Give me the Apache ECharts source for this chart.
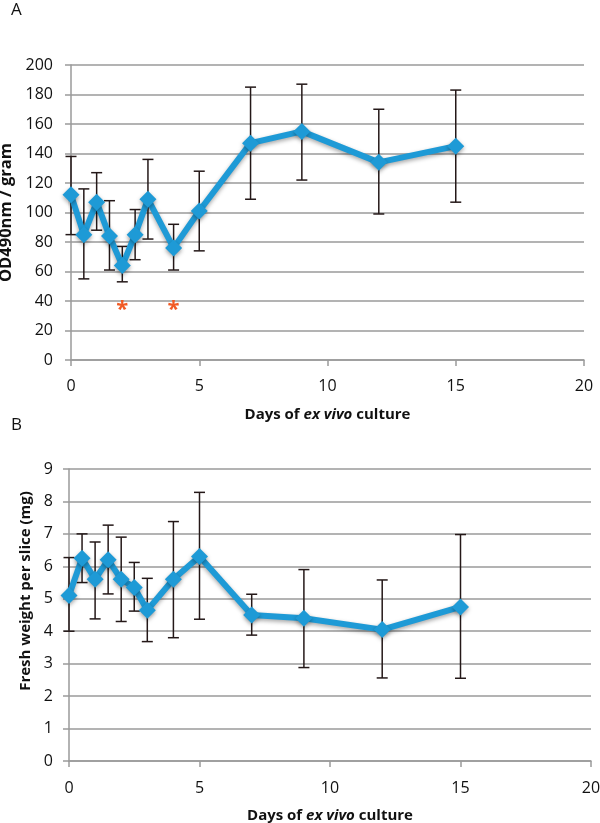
<!DOCTYPE html>
<html>
<head>
<meta charset="utf-8">
<script src="https://cdn.jsdelivr.net/npm/echarts@6/dist/echarts.min.js"></script>
<style>
html,body{margin:0;padding:0;background:#fff;}
#main{width:600px;height:823px;}
</style>
</head>
<body>
<div id="main"></div>
<script>
// ---- Data ----
const days = [0, 0.5, 1, 1.5, 2, 2.5, 3, 4, 5, 7, 9, 12, 15];
const odMean = [112, 85, 107, 84, 64, 85, 109, 76, 101, 147, 155, 134, 145];
const odLow  = [85, 55, 88, 61, 53, 68, 82, 61, 74, 109, 122, 99, 107];
const odHigh = [138, 116, 127, 108, 77, 102, 136, 92, 128, 185, 187, 170, 183];
const wMean = [5.1, 6.25, 5.6, 6.2, 5.6, 5.35, 4.65, 5.6, 6.3, 4.5, 4.4, 4.05, 4.75];
const wLow  = [4.0, 5.5, 4.38, 5.15, 4.3, 4.62, 3.68, 3.8, 4.37, 3.88, 2.88, 2.56, 2.55];
const wHigh = [6.27, 7.0, 6.75, 7.27, 6.9, 6.12, 5.63, 7.38, 8.28, 5.14, 5.9, 5.58, 6.98];
const starDays = [2, 4];
const starLevel = [37, 37];
const xTicks = [0, 5, 10, 15, 20];

const FONT = "'Open Sans', 'DejaVu Sans', sans-serif";
const BLUE = '#1e9ad6';
const GRID = '#9a9a9a';

const lineData = (xs, ys) => xs.map((x, i) => [x, ys[i]]);
const errData = (xs, lo, hi) => xs.map((x, i) => [x, lo[i], hi[i]]);

function errRender(params, api) {
  const x = api.value(0), lo = api.value(1), hi = api.value(2);
  const a = api.coord([x, lo]), b = api.coord([x, hi]);
  const w = 5.5;
  const st = { stroke: '#241818', lineWidth: 1.5 };
  return {
    type: 'group',
    children: [
      { type: 'line', shape: { x1: a[0], y1: a[1], x2: b[0], y2: b[1] }, style: st },
      { type: 'line', shape: { x1: a[0] - w, y1: a[1], x2: a[0] + w, y2: a[1] }, style: st },
      { type: 'line', shape: { x1: b[0] - w, y1: b[1], x2: b[0] + w, y2: b[1] }, style: st }
    ]
  };
}

function starRender(params, api) {
  const p = api.coord([api.value(0), api.value(1)]);
  return {
    type: 'text',
    x: p[0], y: p[1] + 4,
    style: { text: '*', fill: '#f15a24', font: 'bold 22px ' + FONT, align: 'center', verticalAlign: 'middle' }
  };
}

const xAxisBase = (gi, margin, gap) => ({
  type: 'value', gridIndex: gi, min: 0, max: 20, interval: 5,
  axisLine: { show: true, lineStyle: { color: GRID, width: 1.5 } },
  axisTick: { show: true, length: 6, lineStyle: { color: GRID, width: 1.5 } },
  axisLabel: { color: '#111', fontSize: 16, fontFamily: FONT, margin: margin,
    formatter: v => xTicks.includes(v) ? String(v) : '' },
  splitLine: { show: false },
  name: '{b|Days of }{i|ex vivo}{b| culture}',
  nameLocation: 'middle', nameGap: gap,
  nameTextStyle: { rich: {
    b: { fontWeight: 'bold', fontSize: 15, fontFamily: FONT, color: '#111' },
    i: { fontWeight: 'bold', fontStyle: 'italic', fontSize: 15, fontFamily: FONT, color: '#111' }
  } }
});

const yAxisBase = (gi, max, interval, name, gap, margin, nameSize, padding) => ({
  type: 'value', gridIndex: gi, min: 0, max: max, interval: interval,
  axisLine: { show: true, lineStyle: { color: GRID, width: 1.5 } },
  axisTick: { show: true, length: 6, lineStyle: { color: GRID, width: 1.5 } },
  axisLabel: { color: '#111', fontSize: 16, fontFamily: FONT, margin: margin },
  splitLine: { show: true, lineStyle: { color: GRID, width: 1.5 } },
  name: name, nameLocation: 'middle', nameGap: gap,
  nameTextStyle: { fontWeight: 'bold', fontSize: nameSize, fontFamily: FONT, color: '#111', padding: padding }
});

const lineSeries = (gi, data) => ({
  type: 'line', xAxisIndex: gi, yAxisIndex: gi, data: data, z: 5,
  symbol: 'diamond', symbolSize: 17,
  lineStyle: { color: BLUE, width: 6, shadowBlur: 4, shadowColor: 'rgba(0,0,0,0.35)', shadowOffsetY: 2 },
  itemStyle: { color: BLUE, shadowBlur: 4, shadowColor: 'rgba(0,0,0,0.35)', shadowOffsetY: 2 },
  animation: false
});

const errSeries = (gi, data) => ({
  type: 'custom', xAxisIndex: gi, yAxisIndex: gi, data: data, z: 3,
  renderItem: errRender, encode: { x: 0, y: [1, 2] }, animation: false, silent: true
});

const chart = echarts.init(document.getElementById('main'), null, { renderer: 'canvas' });
chart.setOption({
  backgroundColor: '#fff',
  animation: false,
  grid: [
    { left: 71, right: 16, top: 65, height: 295, containLabel: false, outerBoundsMode: 'none' },
    { left: 69, right: 9, top: 469, height: 292, containLabel: false, outerBoundsMode: 'none' }
  ],
  xAxis: [xAxisBase(0, 18, 47), xAxisBase(1, 19, 47)],
  yAxis: [
    yAxisBase(0, 200, 20, 'OD490nm / gram', 53, 18, 16.5, [0, 0, 0, 0]),
    yAxisBase(1, 9, 1, 'Fresh weight per slice (mg)', 36, 16, 15, [0, 0, 0, 48])
  ],
  graphic: [
    { type: 'text', left: 11, top: 2, style: { text: 'A', font: '17px ' + FONT, fill: '#111' } },
    { type: 'text', left: 11, top: 417, style: { text: 'B', font: '17px ' + FONT, fill: '#111' } }
  ],
  series: [
    errSeries(0, errData(days, odLow, odHigh)),
    lineSeries(0, lineData(days, odMean)),
    { type: 'custom', xAxisIndex: 0, yAxisIndex: 0, z: 6, data: lineData(starDays, starLevel),
      renderItem: starRender, encode: { x: 0, y: 1 }, silent: true },
    errSeries(1, errData(days, wLow, wHigh)),
    lineSeries(1, lineData(days, wMean))
  ]
});
</script>
</body>
</html>
